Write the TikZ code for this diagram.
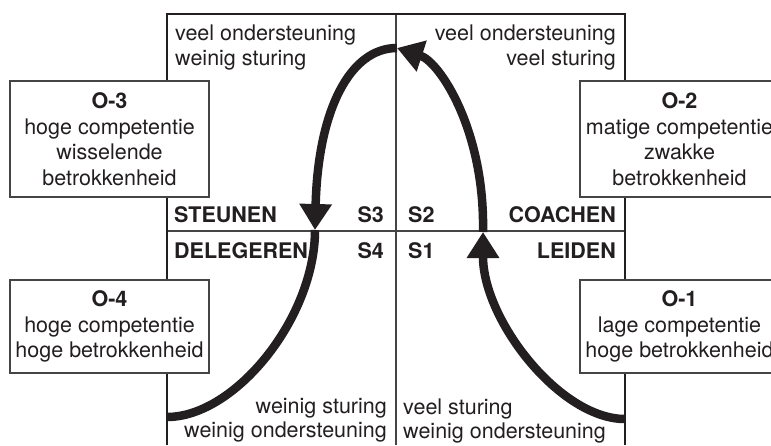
\documentclass[tikz,border=0pt]{standalone}
\usepackage{fontspec}
\setmainfont{TeX Gyre Heros}
\usepackage{tikz}
\usetikzlibrary{arrows.meta}
\definecolor{ink}{HTML}{231F20}
\definecolor{rulegray}{HTML}{454545}

\begin{document}
\begin{tikzpicture}[
  x=1pt, y=-1pt,
  font=\fontsize{21.5}{25.5}\selectfont,
  text=ink,
  frameline/.style={draw=ink, line width=2pt},
  midline/.style={draw=rulegray, line width=1.3pt},
  obox/.style={draw=rulegray, line width=1.2pt, fill=white, align=center, inner sep=0pt, minimum width=199pt},
  lbl/.style={inner sep=0pt},
  tag/.style={inner sep=0pt, font=\fontsize{21.5}{25.5}\selectfont\bfseries},
  flow/.style={draw=ink, line width=8.5pt, -{Triangle[length=26pt,width=31pt]}}
]
\useasboundingbox (0,0) rectangle (771,445);
\clip (0,0) rectangle (771,445);
\coordinate (nw) at (167,14);
\coordinate (ne) at (625,14);
\coordinate (sw) at (167,445);
\coordinate (se) at (625,445);
\coordinate (n) at (396,14);
\coordinate (s) at (396,445);
\coordinate (w) at (167,231);
\coordinate (e) at (625,231);
\draw[midline] (n) -- (s);
\draw[midline] (w) -- (e);
\draw[frameline] (sw) -- (nw) -- (ne) -- (se);

\coordinate (lo) at (167,417);
\coordinate (ro) at (625,419);
\coordinate (sl) at (315,230);
\coordinate (sr) at (483,232);
\coordinate (top) at (397,48);
\draw[flow] (ro) .. controls +(-65,0) and +(0,88) .. (sr);
\draw[flow] (sr) .. controls +(2,-101) and +(43,14) .. (top);
\draw[flow] (top) .. controls +(-47,0) and +(3,-120) .. (sl);
\draw[draw=ink, line width=8.5pt] (sl) .. controls +(0,88) and +(68,0) .. (lo);

\node[obox, minimum height=116pt] (o3) at (109.5,139) {\textbf{O-3}\\hoge competentie\\wisselende\\betrokkenheid};
\node[obox, minimum height=116pt] (o2) at (679.5,139) {\textbf{O-2}\\matige competentie\\zwakke\\betrokkenheid};
\node[obox, minimum height=93pt] (o4) at (109.5,326.5) {\textbf{O-4}\\hoge competentie\\hoge betrokkenheid};
\node[obox, minimum height=93pt] (o1) at (679.5,326.5) {\textbf{O-1}\\lage competentie\\hoge betrokkenheid};

\node[lbl, anchor=north west, align=left] (qtl) at (175,24.5) {veel ondersteuning\\weinig sturing};
\node[lbl, anchor=north east, align=right] (qtr) at (616,24.5) {veel ondersteuning\\veel sturing};
\node[lbl, anchor=north east, align=right, font=\fontsize{21.5}{24}\selectfont] (qbl) at (387,398.5) {weinig sturing\\weinig ondersteuning};
\node[lbl, anchor=north west, align=left, font=\fontsize{21.5}{24}\selectfont] (qbr) at (403,398.5) {veel sturing\\weinig ondersteuning};

\node[tag, anchor=base west] (steunen) at (174,222) {STEUNEN};
\node[tag, anchor=base east] (sthree) at (384,222) {S3};
\node[tag, anchor=base west] (stwo) at (408,222) {S2};
\node[tag, anchor=base east] (coachen) at (616,222) {COACHEN};
\node[tag, anchor=base west] (delegeren) at (174,258) {DELEGEREN};
\node[tag, anchor=base east] (sfour) at (384,258) {S4};
\node[tag, anchor=base west] (sone) at (408,258) {S1};
\node[tag, anchor=base east] (leiden) at (616,258) {LEIDEN};
\end{tikzpicture}
\end{document}
